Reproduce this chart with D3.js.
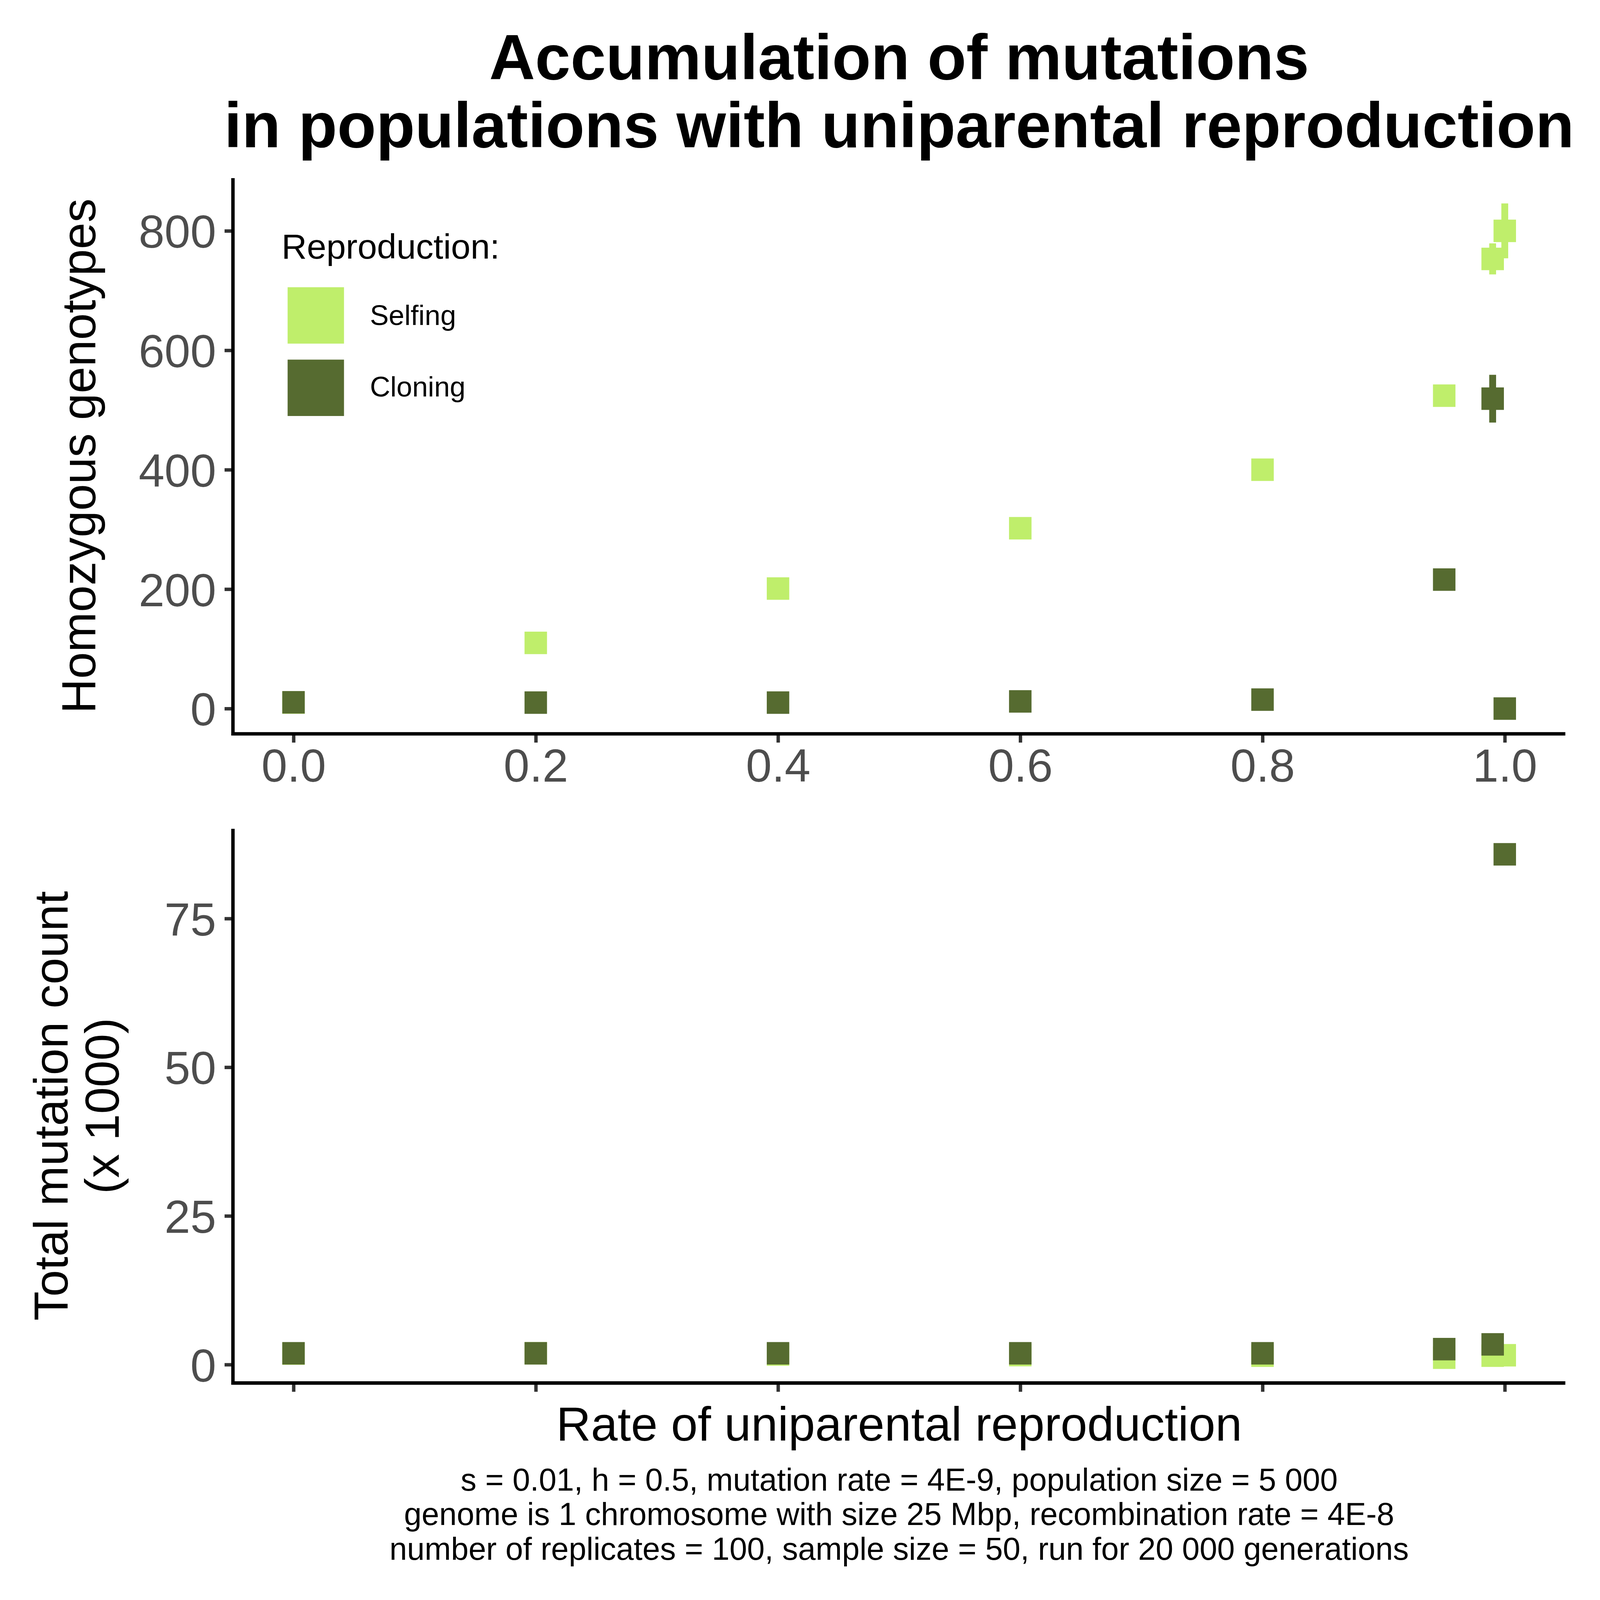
<!DOCTYPE html>
<html>
<head>
<meta charset="utf-8">
<script src="https://cdn.jsdelivr.net/npm/d3@7"></script>
<style>
  html, body { margin: 0; padding: 0; background: #fff; overflow: hidden; width: 100%; height: 100%; }
  svg { display: block; }
  text { font-family: "Liberation Sans", Arial, sans-serif; }
</style>
</head>
<body>
<svg id="chart" viewBox="0 0 4200 4200" preserveAspectRatio="xMidYMid meet" style="width:100vw;height:100vh"></svg>
<script>
// rate of uniparental reproduction
var rates = [0, 0.2, 0.4, 0.6, 0.8, 0.95, 0.99, 1.0];
var xTicks = [0, 0.2, 0.4, 0.6, 0.8, 1.0];

// homozygous genotypes (mean, error)
var selfingHomo    = [10, 110, 201, 302, 400, 524, 753, 800];
var selfingHomoErr = [1, 3, 4, 5, 6, 8, 26, 46];
var cloningHomo    = [10.5, 10, 10, 12, 15, 216, 519, 0];
var cloningHomoErr = [1, 1, 1, 1, 2, 6, 40, 0];
var homoTicks = [0, 200, 400, 600, 800];

// total mutation count x 1000 (mean, error)
var selfingTotal    = [1.85, 1.9, 1.7, 1.6, 1.5, 1.16, 1.5, 1.57];
var selfingTotalErr = [0.02, 0.02, 0.02, 0.02, 0.02, 0.02, 0.05, 0.05];
var cloningTotal    = [1.9, 1.9, 1.9, 1.9, 1.9, 2.6, 3.4, 85.8];
var cloningTotalErr = [0.02, 0.02, 0.02, 0.02, 0.02, 0.05, 0.1, 0.06];
var totalTicks = [0, 25, 50, 75];

var groups = ['Selfing', 'Cloning'];
var colors = {'Selfing': '#BFEE6B', 'Cloning': '#566B30'};

var svg = d3.select('#chart');
var left = 611.5, right = 4109;
var cx = (left + right) / 2;

var x = d3.scaleLinear().domain([-0.05, 1.05]).range([left, right]);

function makeRows(vals, errs, group) {
    return rates.map(function(r, i) {
        return {rate: r, v: vals[i], e: errs[i], group: group};
    });
}

var panels = [
    {top: 467.6, bottom: 1926.3, ticks: homoTicks, labels: true,
     rows: makeRows(selfingHomo, selfingHomoErr, 'Selfing').concat(makeRows(cloningHomo, cloningHomoErr, 'Cloning'))},
    {top: 2175.5, bottom: 3630.4, ticks: totalTicks, labels: false,
     rows: makeRows(selfingTotal, selfingTotalErr, 'Selfing').concat(makeRows(cloningTotal, cloningTotalErr, 'Cloning'))}
];

panels.forEach(function(p) {
    var lo = d3.min(p.rows, function(d) { return d.v - d.e; });
    var hi = d3.max(p.rows, function(d) { return d.v + d.e; });
    var pad = (hi - lo) * 0.05;
    var y = d3.scaleLinear().domain([lo - pad, hi + pad]).range([p.bottom, p.top]);
    var g = svg.append('g');

    // error bars first, then the squares
    g.selectAll('line.err').data(p.rows).enter().append('line')
        .attr('class', 'err')
        .attr('x1', function(d) { return x(d.rate); })
        .attr('x2', function(d) { return x(d.rate); })
        .attr('y1', function(d) { return y(d.v - d.e); })
        .attr('y2', function(d) { return y(d.v + d.e); })
        .attr('stroke', function(d) { return colors[d.group]; })
        .attr('stroke-width', 18);

    var s = 59;
    g.selectAll('rect.pt').data(p.rows).enter().append('rect')
        .attr('class', 'pt')
        .attr('x', function(d) { return x(d.rate) - s / 2; })
        .attr('y', function(d) { return y(d.v) - s / 2; })
        .attr('width', s).attr('height', s)
        .attr('fill', function(d) { return colors[d.group]; });

    var ya = g.append('g').attr('transform', 'translate(' + left + ',0)')
        .call(d3.axisLeft(y).tickValues(p.ticks).tickSize(22).tickSizeOuter(0).tickPadding(22));
    var xa = g.append('g').attr('transform', 'translate(0,' + p.bottom + ')')
        .call(d3.axisBottom(x).tickValues(xTicks).tickSize(23).tickSizeOuter(0).tickPadding(16)
            .tickFormat(p.labels ? d3.format('.1f') : function() { return ''; }));

    [ya, xa].forEach(function(a) {
        a.select('.domain').remove();
        a.selectAll('.tick line').attr('stroke', '#333333').attr('stroke-width', 9);
        a.selectAll('.tick text').attr('fill', '#4D4D4D').attr('font-size', 122)
            .style('font-family', '"Liberation Sans", Arial, sans-serif');
    });
    ya.selectAll('.tick text').attr('dy', '0.36em');

    // axis lines
    g.append('line').attr('x1', left).attr('x2', left).attr('y1', p.top).attr('y2', p.bottom + 4.5)
        .attr('stroke', '#000').attr('stroke-width', 9);
    g.append('line').attr('x1', left - 4.5).attr('x2', right).attr('y1', p.bottom).attr('y2', p.bottom)
        .attr('stroke', '#000').attr('stroke-width', 9);
});

// titles
svg.append('text').attr('x', cx).attr('y', 208).attr('text-anchor', 'middle')
    .attr('font-size', 167).attr('font-weight', 'bold').text('Accumulation of mutations');
svg.append('text').attr('x', cx).attr('y', 387).attr('text-anchor', 'middle')
    .attr('font-size', 167).attr('font-weight', 'bold').text('in populations with uniparental reproduction');

// y axis titles
var yc1 = (panels[0].top + panels[0].bottom) / 2;
svg.append('text').attr('transform', 'translate(250,' + yc1 + ') rotate(-90)')
    .attr('text-anchor', 'middle').attr('font-size', 126).text('Homozygous genotypes');
var yc2 = (panels[1].top + panels[1].bottom) / 2;
svg.append('text').attr('transform', 'translate(177,' + yc2 + ') rotate(-90)')
    .attr('text-anchor', 'middle').attr('font-size', 126).text('Total mutation count');
svg.append('text').attr('transform', 'translate(312,' + yc2 + ') rotate(-90)')
    .attr('text-anchor', 'middle').attr('font-size', 126).text('(x 1000)');

// x axis title and caption
svg.append('text').attr('x', cx).attr('y', 3782).attr('text-anchor', 'middle')
    .attr('font-size', 126).text('Rate of uniparental reproduction');
var caption = [
    's = 0.01, h = 0.5, mutation rate = 4E-9, population size = 5 000',
    'genome is 1 chromosome with size 25 Mbp, recombination rate = 4E-8',
    'number of replicates = 100, sample size = 50, run for 20 000 generations'
];
svg.selectAll('text.cap').data(caption).enter().append('text')
    .attr('class', 'cap')
    .attr('x', cx).attr('y', function(d, i) { return 3913 + i * 90.5; })
    .attr('text-anchor', 'middle').attr('font-size', 83).text(function(d) { return d; });

// legend
var lg = svg.append('g');
lg.append('text').attr('x', 739).attr('y', 679).attr('font-size', 92).text('Reproduction:');
groups.forEach(function(k, i) {
    lg.append('rect').attr('x', 755).attr('y', 754 + i * 190).attr('width', 148).attr('height', 148)
        .attr('fill', colors[k]);
    lg.append('text').attr('x', 971).attr('y', 853 + i * 188).attr('font-size', 74).text(k);
});
</script>
</body>
</html>
